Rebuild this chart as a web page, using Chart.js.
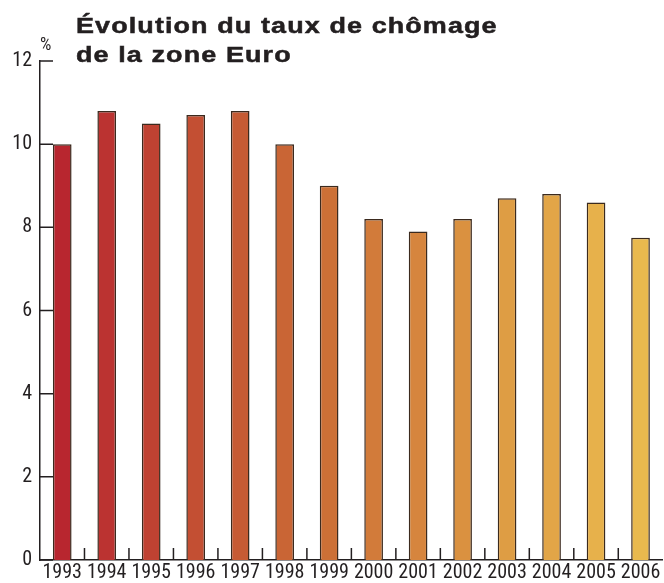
<!DOCTYPE html>
<html lang="fr">
<head>
<meta charset="utf-8">
<script src="https://cdn.jsdelivr.net/npm/chart.js@4/dist/chart.umd.min.js"></script>
<style>
  html, body { margin: 0; padding: 0; background: #fff; }
  #wrap { position: relative; width: 664px; height: 583px; }
  #title {
    position: absolute; left: 76px; top: 11px;
    font: bold 22px "Liberation Sans", sans-serif; letter-spacing: 0.9px;
    line-height: 29px; color: #231f20; -webkit-text-stroke: 0.5px #231f20;
    transform: scaleX(1.225); transform-origin: left top; white-space: nowrap;
  }
  #unit {
    position: absolute; left: 40px; top: 33px;
    font: 18px Roboto, sans-serif; font-stretch: condensed; color: #231f20;
  }
  canvas { position: absolute; left: 0; top: 0; }
</style>
</head>
<body>
<div id="wrap">
  <canvas id="chart" width="664" height="583"></canvas>
  <div id="title">Évolution du taux de chômage<br>de la zone Euro</div>
  <div id="unit">%</div>
</div>
<script>
const years = ["1993", "1994", "1995", "1996", "1997", "1998", "1999", "2000", "2001", "2002", "2003", "2004", "2005", "2006"];
const unemployment = [10.0, 10.8, 10.5, 10.7, 10.8, 10.0, 9.0, 8.2, 7.9, 8.2, 8.7, 8.8, 8.6, 7.75];
const barColors = ["#b8262f", "#bb3331", "#bf4232", "#c34f33", "#c65b34", "#c96535", "#cc7036",
                   "#d27b3a", "#d6853e", "#da9140", "#de9d44", "#e2a547", "#e7b14b", "#e9b94e"];
const yTicks = [0, 2, 4, 6, 8, 10, 12];

const axisColor = "#231f20";
const tickFont = { family: "Roboto, sans-serif", size: 20 };

// narrow labels like the printed chart
const condensed = {
  id: "condensed",
  beforeDraw(chart) { chart.ctx.fontStretch = "condensed"; }
};

// inward tick marks: short on the y axis, between categories on the x axis
const innerTicks = {
  id: "innerTicks",
  afterDraw(chart) {
    const { ctx, chartArea, scales: { x, y } } = chart;
    ctx.save();
    ctx.strokeStyle = axisColor;
    ctx.lineWidth = 1.5;
    ctx.beginPath();
    yTicks.forEach(v => {
      const py = y.getPixelForValue(v);
      ctx.moveTo(chartArea.left, py);
      ctx.lineTo(chartArea.left + 13, py);
    });
    for (let i = 1; i < years.length; i++) {
      const px = (x.getPixelForValue(i - 1) + x.getPixelForValue(i)) / 2;
      ctx.moveTo(px, chartArea.bottom);
      ctx.lineTo(px, chartArea.bottom - 12);
    }
    ctx.stroke();
    ctx.restore();
  }
};

new Chart(document.getElementById("chart"), {
  type: "bar",
  data: {
    labels: years,
    datasets: [{
      data: unemployment,
      backgroundColor: barColors,
      borderColor: "#3b2a1e",
      borderWidth: 1.5,
      categoryPercentage: 1,
      barPercentage: 0.42
    }]
  },
  options: {
    responsive: false,
    animation: false,
    layout: { padding: { top: 61, right: 0, left: 0, bottom: 0 } },
    plugins: { legend: { display: false }, tooltip: { enabled: false } },
    scales: {
      x: {
        grid: { display: false, drawTicks: false },
        border: { display: true, color: axisColor, width: 1.5 },
        ticks: { color: axisColor, font: tickFont, padding: 1, autoSkip: false, maxRotation: 0 },
        afterFit(scale) { scale.height = 23; }
      },
      y: {
        min: 0,
        max: 12,
        afterBuildTicks(scale) { scale.ticks = yTicks.map(v => ({ value: v })); },
        grid: { display: false, drawTicks: false },
        border: { display: true, color: axisColor, width: 1.5 },
        ticks: { color: axisColor, font: tickFont, padding: 8 },
        afterFit(scale) { scale.width = 40; }
      }
    }
  },
  plugins: [condensed, innerTicks]
});
</script>
</body>
</html>
